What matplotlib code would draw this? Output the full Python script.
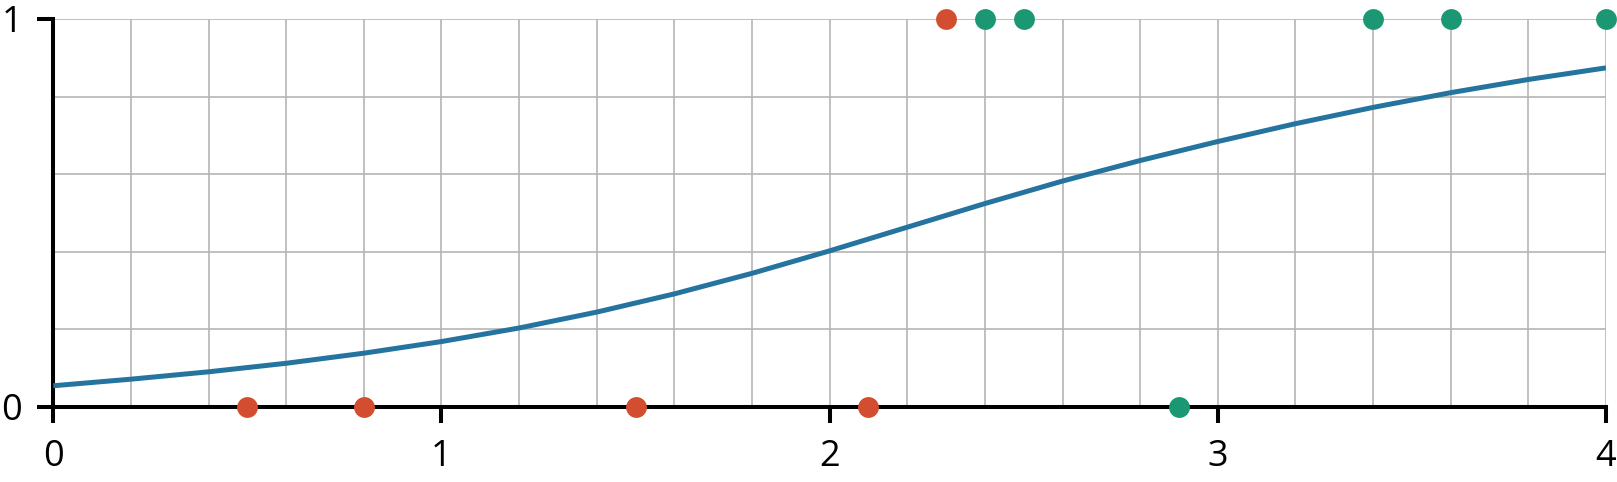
import numpy as np
import matplotlib
matplotlib.use("Agg")
import matplotlib.pyplot as plt

plt.rcParams['font.family'] = ['Open Sans', 'DejaVu Sans']

# curva (cada 0.2)
curva_x = [0.0, 0.2, 0.4, 0.6, 0.8, 1.0, 1.2, 1.4, 1.6, 1.8, 2.0,
           2.2, 2.4, 2.6, 2.8, 3.0, 3.2, 3.4, 3.6, 3.8, 4.0]
curva_y = [0.054, 0.071, 0.090, 0.112, 0.138, 0.168, 0.203, 0.244, 0.291, 0.344, 0.402,
           0.463, 0.524, 0.582, 0.635, 0.684, 0.730, 0.772, 0.810, 0.844, 0.874]

# puntos rojos y verdes
rojos_x = [0.5, 0.8, 1.5, 2.1, 2.3]
rojos_y = [0, 0, 0, 0, 1]
verdes_x = [2.4, 2.5, 2.9, 3.4, 3.6, 4.0]
verdes_y = [1, 1, 0, 1, 1, 1]

xticks = [0, 1, 2, 3, 4]
yticks = [0, 1]

fig = plt.figure(figsize=(16.17, 4.82), dpi=100)
ax = fig.add_axes([53.3 / 1617, 75.3 / 482, 1552.7 / 1617, 387.7 / 482])

ax.set_xlim(0, 4)
ax.set_ylim(0, 1)

# rejilla cada 0.2
ax.set_xticks(np.arange(0, 4.01, 0.2), minor=True)
ax.set_yticks(np.arange(0, 1.01, 0.2), minor=True)
ax.grid(True, which='minor', color='#b5b5b5', linewidth=1.2, zorder=0)
ax.grid(True, which='major', color='#b5b5b5', linewidth=1.2, zorder=0)
ax.tick_params(which='minor', length=0)

ax.set_xticks(xticks, labels=[str(t) for t in xticks])
ax.set_yticks(yticks, labels=[str(t) for t in yticks])
ax.tick_params(which='major', length=11.5, width=2.9, color='black',
               labelsize=26, pad=11)
ax.tick_params(axis='x', pad=12)

for lado in ['top', 'right']:
    ax.spines[lado].set_visible(False)
for lado in ['left', 'bottom']:
    ax.spines[lado].set_linewidth(2.9)
    ax.spines[lado].set_color('black')
    ax.spines[lado].set_zorder(3)

ax.plot(curva_x, curva_y, color='#2574a0', linewidth=3.6, zorder=4,
        solid_capstyle='butt', solid_joinstyle='round')
ax.plot(rojos_x, rojos_y, 'o', color='#d34d31', markersize=15,
        markeredgewidth=0, zorder=5, clip_on=False)
ax.plot(verdes_x, verdes_y, 'o', color='#1c9774', markersize=15,
        markeredgewidth=0, zorder=5, clip_on=False)

fig.savefig('out.png', dpi=100)
